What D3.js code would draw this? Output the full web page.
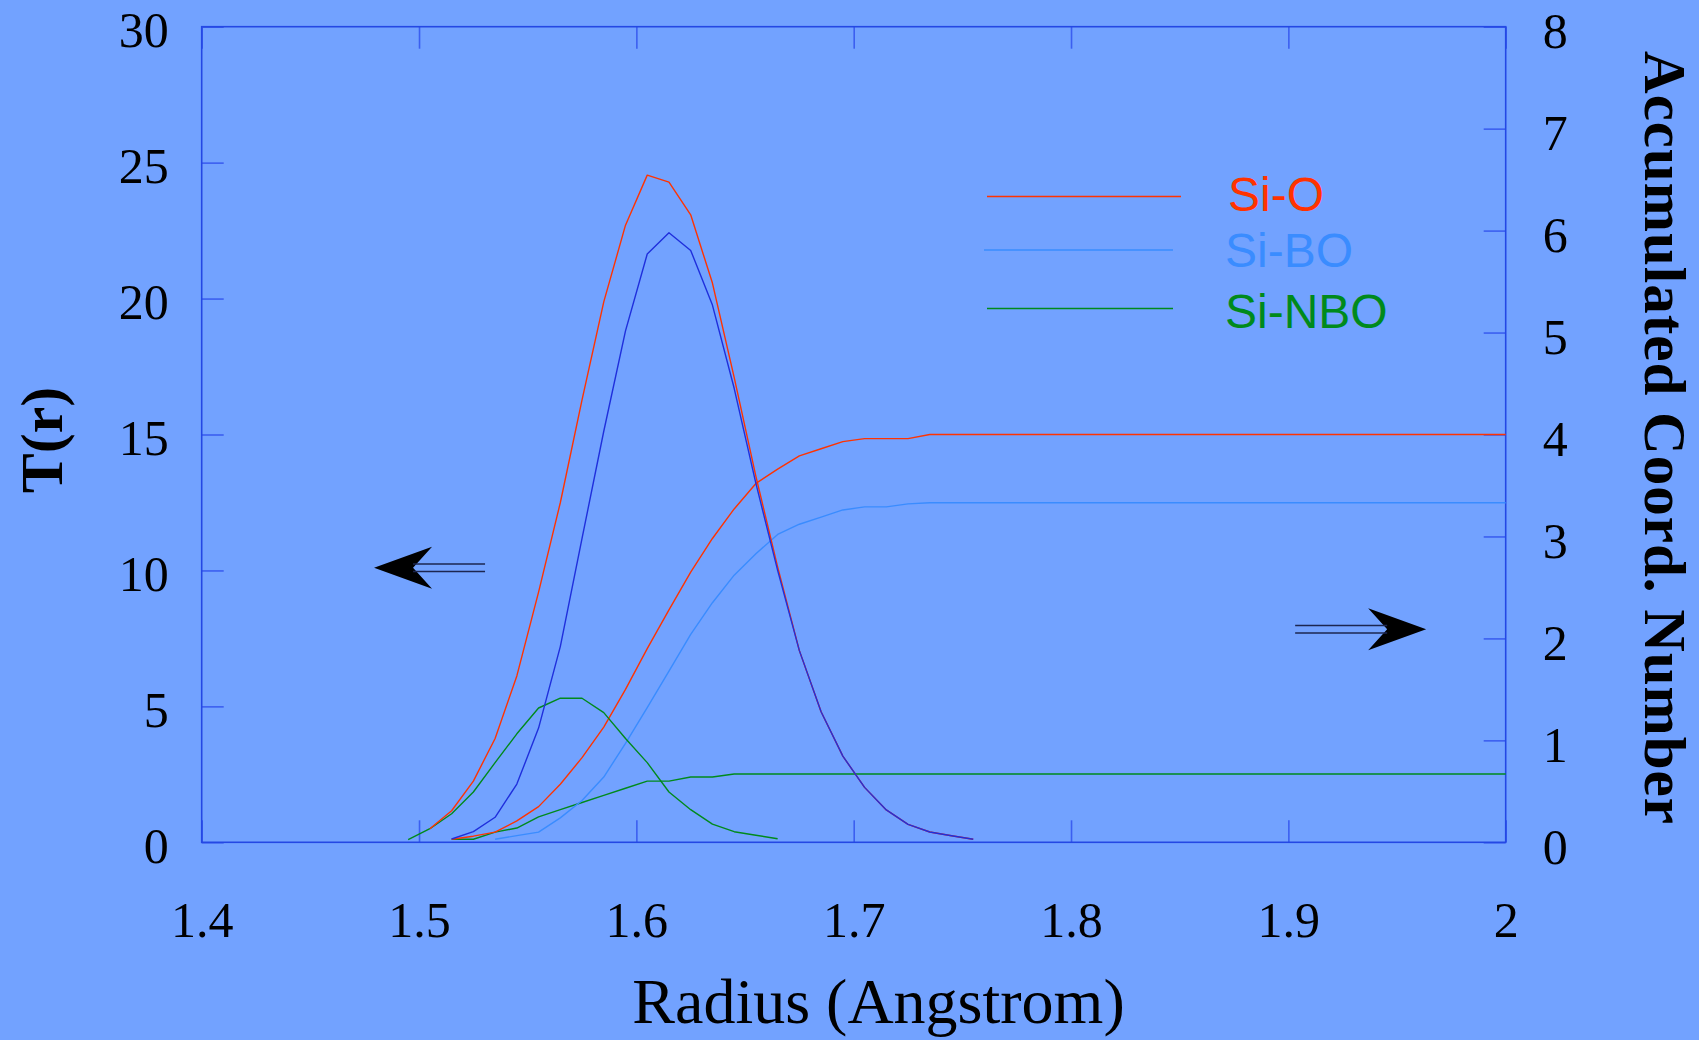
<!DOCTYPE html>
<html>
<head>
<meta charset="utf-8">
<script src="https://cdn.jsdelivr.net/npm/d3@7"></script>
<style>
  html, body { margin: 0; padding: 0; background: #72a2ff; }
  svg { display: block; }
</style>
</head>
<body>
<div id="chart"></div>
<script>
// radius grid (bin centres, Angstrom)
const radius = [1.495, 1.505, 1.515, 1.525, 1.535, 1.545, 1.555, 1.565, 1.575, 1.585,
                1.595, 1.605, 1.615, 1.625, 1.635, 1.645, 1.655, 1.665, 1.675, 1.685,
                1.695, 1.705, 1.715, 1.725, 1.735, 1.745, 1.755, 1.765, 1.775, 1.785,
                1.795, 1.805, 1.815, 1.825, 1.835, 1.845, 1.855, 1.865, 1.875, 1.885,
                1.895, 1.905, 1.915, 1.925, 1.935, 1.945, 1.955, 1.965, 1.975, 1.985,
                1.995, 2.0];

// T(r), left axis
const tSiO = [null, 0.5, 1.16, 2.25, 3.82, 6.12, 9.2, 12.49, 16.27, 19.88,
              22.7, 24.54, 24.28, 23.08, 20.57, 17.1, 13.46, 10.13, 7.05, 4.8,
              3.17, 2.02, 1.19, 0.66, 0.38, 0.24, 0.11];
const tSiBO = [null, null, 0.12, 0.39, 0.92, 2.14, 4.2, 7.2, 11.18, 15.12,
               18.81, 21.64, 22.42, 21.77, 19.76, 16.7, 13.2, 10.0, 7.05, 4.8,
               3.17, 2.02, 1.19, 0.66, 0.38, 0.24, 0.11];
const tSiNBO = [0.1, 0.5, 1.05, 1.85, 2.93, 3.99, 4.94, 5.3, 5.3, 4.77,
                3.82, 2.93, 1.85, 1.2, 0.67, 0.39, 0.26, 0.13];

// accumulated coordination number, right axis
const nSiO = [null, null, 0.03, 0.06, 0.10, 0.21, 0.35, 0.57, 0.83, 1.13,
              1.5, 1.9, 2.28, 2.65, 2.98, 3.27, 3.52, 3.66, 3.79, 3.86,
              3.93, 3.96, 3.96, 3.96, 4.0, 4.0, 4.0, 4.0, 4.0, 4.0,
              4.0, 4.0, 4.0, 4.0, 4.0, 4.0, 4.0, 4.0, 4.0, 4.0,
              4.0, 4.0, 4.0, 4.0, 4.0, 4.0, 4.0, 4.0, 4.0, 4.0, 4.0, 4.0];
const nSiBO = [null, null, null, null, 0.03, 0.065, 0.1, 0.24, 0.41, 0.64,
               0.97, 1.32, 1.68, 2.04, 2.35, 2.62, 2.83, 3.02, 3.12, 3.19,
               3.26, 3.29, 3.29, 3.32, 3.33, 3.33, 3.33, 3.33, 3.33, 3.33,
               3.33, 3.33, 3.33, 3.33, 3.33, 3.33, 3.33, 3.33, 3.33, 3.33,
               3.33, 3.33, 3.33, 3.33, 3.33, 3.33, 3.33, 3.33, 3.33, 3.33, 3.33, 3.33];
const nSiNBO = [null, null, 0.03, 0.03, 0.10, 0.14, 0.25, 0.32, 0.39, 0.46,
                0.53, 0.6, 0.6, 0.64, 0.64, 0.67, 0.67, 0.67, 0.67, 0.67,
                0.67, 0.67, 0.67, 0.67, 0.67, 0.67, 0.67, 0.67, 0.67, 0.67,
                0.67, 0.67, 0.67, 0.67, 0.67, 0.67, 0.67, 0.67, 0.67, 0.67,
                0.67, 0.67, 0.67, 0.67, 0.67, 0.67, 0.67, 0.67, 0.67, 0.67, 0.67, 0.67];

const xTicks = [1.4, 1.5, 1.6, 1.7, 1.8, 1.9, 2];
const leftTicks = [0, 5, 10, 15, 20, 25, 30];
const rightTicks = [0, 1, 2, 3, 4, 5, 6, 7, 8];
const legendNames = ["Si-O", "Si-BO", "Si-NBO"];

// set the dimensions of the graph
const width = 1699, height = 1040;
const plot = { left: 201.7, right: 1505.7, top: 26.7, bottom: 842.3 };

const colors = {
    red: "#ff3300",
    light: "#3a8cff",
    green: "#008a1c",
    dark: "#1f2fdc",
    axis: "#2448e4",
    tick: "#3b5ff0"
};

const svg = d3.select("#chart")
    .append("svg")
    .attr("width", width)
    .attr("height", height);

svg.append("rect")
    .attr("width", width)
    .attr("height", height)
    .attr("fill", "#72a2ff");

const x = d3.scaleLinear().domain([1.4, 2]).range([plot.left, plot.right]);
const yL = d3.scaleLinear().domain([0, 30]).range([plot.bottom, plot.top]);
const yR = d3.scaleLinear().domain([0, 8]).range([plot.bottom, plot.top]);

const serif = "'Liberation Serif', 'Times New Roman', Times, serif";
const sans = "'Liberation Sans', Arial, Helvetica, sans-serif";

// axes (ticks point inward)
const fmt = d => String(+d.toFixed(1));

const gBottom = svg.append("g")
    .attr("transform", `translate(0, ${plot.bottom})`)
    .call(d3.axisBottom(x).tickValues(xTicks).tickFormat(fmt)
        .tickSizeInner(-22).tickSizeOuter(0).tickPadding(59));

const gTop = svg.append("g")
    .attr("transform", `translate(0, ${plot.top})`)
    .call(d3.axisTop(x).tickValues(xTicks).tickFormat("")
        .tickSizeInner(-22).tickSizeOuter(0));

const gLeft = svg.append("g")
    .attr("transform", `translate(${plot.left}, 0)`)
    .call(d3.axisLeft(yL).tickValues(leftTicks).tickFormat(fmt)
        .tickSizeInner(-22).tickSizeOuter(0).tickPadding(33));

const gRight = svg.append("g")
    .attr("transform", `translate(${plot.right}, 0)`)
    .call(d3.axisRight(yR).tickValues(rightTicks).tickFormat(fmt)
        .tickSizeInner(-22).tickSizeOuter(0).tickPadding(37));

[gBottom, gTop, gLeft, gRight].forEach(g => {
    g.select(".domain").remove();
    g.selectAll(".tick line").attr("stroke", colors.tick).attr("stroke-width", 1.6);
    g.selectAll(".tick text")
        .attr("fill", "#000")
        .style("font-family", serif)
        .style("font-size", "50px");
});
gLeft.selectAll(".tick text").attr("dy", "0.4em");
gRight.selectAll(".tick text").attr("dy", "0.42em");

// frame
svg.append("rect")
    .attr("x", plot.left)
    .attr("y", plot.top)
    .attr("width", plot.right - plot.left)
    .attr("height", plot.bottom - plot.top)
    .attr("fill", "none")
    .attr("stroke", colors.axis)
    .attr("stroke-width", 1.6);

// lines
const rows = (vals) => radius.map((r, i) => [r, vals[i]]).filter(d => d[1] != null);

const lineL = d3.line().x(d => x(d[0])).y(d => yL(d[1]));
const lineR = d3.line().x(d => x(d[0])).y(d => yR(d[1]));

const series = [
    { vals: nSiNBO, line: lineR, color: colors.green },
    { vals: nSiBO, line: lineR, color: colors.light },
    { vals: nSiO, line: lineR, color: colors.red },
    { vals: tSiNBO, line: lineL, color: colors.green },
    { vals: tSiO, line: lineL, color: colors.red },
    { vals: tSiBO, line: lineL, color: colors.dark }
];

svg.append("g")
    .selectAll("path")
    .data(series)
    .join("path")
    .attr("d", d => d.line(rows(d.vals)))
    .attr("fill", "none")
    .attr("stroke", d => d.color)
    .attr("stroke-width", 1.4)
    .attr("stroke-linejoin", "round");

// legend
const legend = [
    { name: legendNames[0], color: colors.red, x1: 987, x2: 1181, ly: 196.5, tx: 1228, ty: 211 },
    { name: legendNames[1], color: colors.light, x1: 984, x2: 1173, ly: 250, tx: 1225, ty: 267 },
    { name: legendNames[2], color: colors.green, x1: 987, x2: 1173, ly: 308.5, tx: 1225, ty: 328 }
];
const gLeg = svg.append("g");
gLeg.selectAll("line")
    .data(legend)
    .join("line")
    .attr("x1", d => d.x1).attr("x2", d => d.x2)
    .attr("y1", d => d.ly).attr("y2", d => d.ly)
    .attr("stroke", d => d.color)
    .attr("stroke-width", 1.4);
gLeg.selectAll("text")
    .data(legend)
    .join("text")
    .attr("x", d => d.tx)
    .attr("y", d => d.ty)
    .text(d => d.name)
    .attr("fill", d => d.color)
    .style("font-family", sans)
    .style("font-size", "48px");

// axis titles
svg.append("text")
    .attr("x", 878.5)
    .attr("y", 1023)
    .attr("text-anchor", "middle")
    .style("font-family", serif)
    .style("font-size", "64px")
    .text("Radius (Angstrom)");

svg.append("text")
    .attr("transform", "translate(62, 440) rotate(-90)")
    .attr("text-anchor", "middle")
    .style("font-family", serif)
    .style("font-size", "60px")
    .style("font-weight", "bold")
    .text("T(r)");

svg.append("text")
    .attr("transform", "translate(1645, 438) rotate(90)")
    .attr("text-anchor", "middle")
    .style("font-family", serif)
    .style("font-size", "59px")
    .style("font-weight", "bold")
    .style("letter-spacing", "1px")
    .text("Accumulated Coord. Number");

// arrows pointing to each axis
function arrow(tipX, tipY, dir, shaft) {
    // dir = -1 points left, +1 points right
    const head = 58, notch = 39, half = 21, gap = 3.8;
    const g = svg.append("g");
    g.append("path")
        .attr("d", `M${tipX},${tipY} L${tipX - dir * head},${tipY - half} ` +
                   `L${tipX - dir * notch},${tipY} L${tipX - dir * head},${tipY + half} Z`)
        .attr("fill", "#000");
    [-gap, gap].forEach(o => {
        g.append("line")
            .attr("x1", tipX - dir * notch).attr("x2", tipX - dir * shaft)
            .attr("y1", tipY + o).attr("y2", tipY + o)
            .attr("stroke", "#1c2650")
            .attr("stroke-width", 1.5);
    });
}
arrow(x(1.4793), yL(10.1), -1, 111);
arrow(x(1.9634), yR(2.09), 1, 131);
</script>
</body>
</html>
